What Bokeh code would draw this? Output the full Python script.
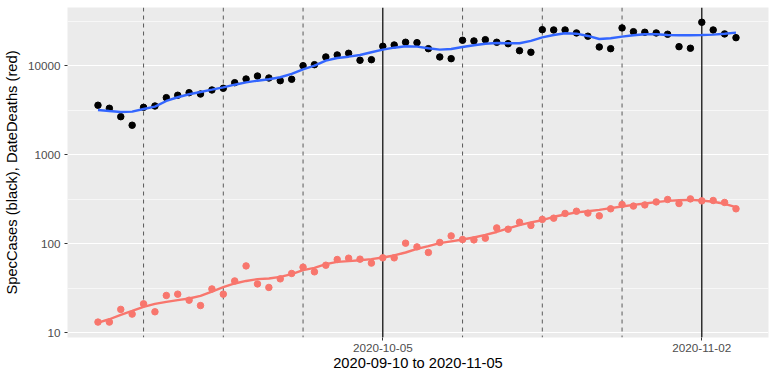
import pandas as pd
from bokeh.plotting import figure
from bokeh.models import (Range1d, FixedTicker, DatetimeTickFormatter,
                          BasicTickFormatter, Span, ColumnDataSource)
from bokeh.embed import file_html
from bokeh.resources import INLINE

# ---------------- data ----------------
dates = pd.date_range("2020-09-10", "2020-11-05", freq="D")

spec_cases = [3590, 3320, 2670, 2140, 3400, 3520, 4370, 4650, 4970, 4800,
              5330, 5570, 6440, 7080, 7650, 7270, 6780, 7030,
              10000, 10260, 12530, 13200, 13780, 11500, 11680, 16520, 17090,
              18330, 18150, 15530, 12530, 11990, 19300, 18970, 19600, 18330,
              17660, 14750, 14150,
              25400, 25200, 25200, 23330, 21430, 16230, 15530, 26550, 24100,
              23750, 23330, 22550, 16360, 15700, 30760, 25200, 22740, 20650]

date_deaths = [13.1, 13.1, 18.2, 16.1, 21.0, 17.1, 26.1, 27.0, 23.1, 20.1,
               30.9, 27.0, 38.0, 56.1, 35.2, 32.1, 40.1, 46.1,
               54.3, 48.1, 57.1, 66.2, 68.5, 66.8, 60.3, 69.1, 69.1, 101,
               91.8, 79.4, 103, 122, 111, 110, 115, 150, 145, 174, 160,
               187, 193, 218, 231, 220, 205, 246, 275, 264, 272, 294, 313,
               282, 318, 302, 305, 290, 246]

cases_smooth = [3177, 3090, 3010, 3040, 3260, 3460, 4010, 4415, 4770, 5060,
                5370, 5710, 6110, 6500, 6780, 7030, 7410, 8070, 9110, 10000,
                11380, 12210, 12620, 13190, 14150, 15140, 15930, 16520, 16360,
                15700, 15140, 15420, 16220, 16950, 17660, 17990, 17850, 17850,
                18970, 20840, 22120, 23120, 22890, 21580, 19960, 20320, 21180,
                21980, 22550, 22550, 22120, 21980, 21980, 22120, 22330, 22890,
                23500]

deaths_smooth = [12.9, 14.1, 15.8, 17.5, 19.4, 21.0, 22.1, 23.1, 24.1, 25.8,
                 28.9, 32.3, 35.6, 38.0, 39.8, 40.5, 42.2, 45.3, 50.2, 53.3,
                 58.7, 62.2, 63.4, 65.0, 66.8, 69.8, 73.5, 79.4, 87.1, 93.5,
                 101, 106, 111, 117, 125, 135, 148, 161, 173, 183, 200, 212,
                 224, 231, 239, 250, 261, 272, 282, 292, 302, 307, 310, 305,
                 295, 280, 257]

week_lines = ["2020-09-14", "2020-09-21", "2020-09-28",
              "2020-10-12", "2020-10-19", "2020-10-26"]
month_lines = ["2020-10-05", "2020-11-02"]
y_ticks = [10, 100, 1000, 10000]
y_minor_ticks = [31.62, 316.2, 3162, 31623]
x_title = "2020-09-10 to 2020-11-05"
y_title = "SpecCases (black), DateDeaths (red)"

# ---------------- figure ----------------
def ms(d):
    return pd.Timestamp(d).value / 1e6

DAY = 86400000.0
ref = ms("2020-10-05")
x_range = Range1d(ref - 27.675 * DAY, ref + 33.854 * DAY)
y_range = Range1d(10 ** 0.944, 10 ** 4.654)

p = figure(width=775, height=379, x_axis_type="datetime", y_axis_type="log",
           x_range=x_range, y_range=y_range, output_backend="svg",
           toolbar_location=None,
           min_border_left=67, min_border_right=7, min_border_top=7,
           min_border_bottom=42)

p.background_fill_color = "#EBEBEB"
p.border_fill_color = "white"
p.outline_line_color = None

# grid
p.xgrid.grid_line_color = None
p.ygrid.grid_line_color = "white"
p.ygrid.grid_line_width = 1.2
p.ygrid.minor_grid_line_color = "white"
p.ygrid.minor_grid_line_width = 0.6

# axes
p.xaxis.ticker = FixedTicker(ticks=[ms(d) for d in month_lines])
fmt = "%Y-%m-%d"
p.xaxis.formatter = DatetimeTickFormatter(
    milliseconds=fmt, seconds=fmt, minsec=fmt, minutes=fmt, hourmin=fmt,
    hours=fmt, days=fmt, months=fmt, years=fmt)
p.yaxis.ticker = FixedTicker(ticks=y_ticks, minor_ticks=y_minor_ticks)
p.yaxis.formatter = BasicTickFormatter(use_scientific=False)

for ax in (p.xaxis[0], p.yaxis[0]):
    ax.axis_line_color = None
    ax.major_tick_line_color = "#333333"
    ax.major_tick_in = 0
    ax.major_tick_out = 3
    ax.minor_tick_line_color = None
    ax.major_label_text_font = "Liberation Sans"
    ax.major_label_text_font_size = "11.7px"
    ax.major_label_text_color = "#4D4D4D"
    ax.axis_label_text_font = "Liberation Sans"
    ax.axis_label_text_font_size = "14.7px"
    ax.axis_label_text_font_style = "normal"
    ax.axis_label_text_color = "black"
    ax.major_label_standoff = 3

p.xaxis.axis_label = x_title
p.yaxis.axis_label = y_title
p.xaxis.axis_label_standoff = 0
p.yaxis.axis_label_standoff = 5

# vertical reference lines
for d in week_lines:
    p.add_layout(Span(location=ms(d), dimension="height",
                      line_color="#5A5A5A", line_width=1,
                      line_dash="4 4", level="underlay"))
for d in month_lines:
    p.add_layout(Span(location=ms(d), dimension="height",
                      line_color="black", line_width=1.2,
                      level="underlay"))

src = ColumnDataSource(dict(date=dates, cases=spec_cases, deaths=date_deaths,
                            cs=cases_smooth, ds=deaths_smooth))

p.scatter("date", "cases", source=src, size=6.5, color="black")
p.scatter("date", "deaths", source=src, size=6.5, color="#F8766D")
p.line("date", "cs", source=src, line_color="#3366FF", line_width=2.4)
p.line("date", "ds", source=src, line_color="#F8766D", line_width=2.4)

open("out.html", "w").write(file_html(p, INLINE))
